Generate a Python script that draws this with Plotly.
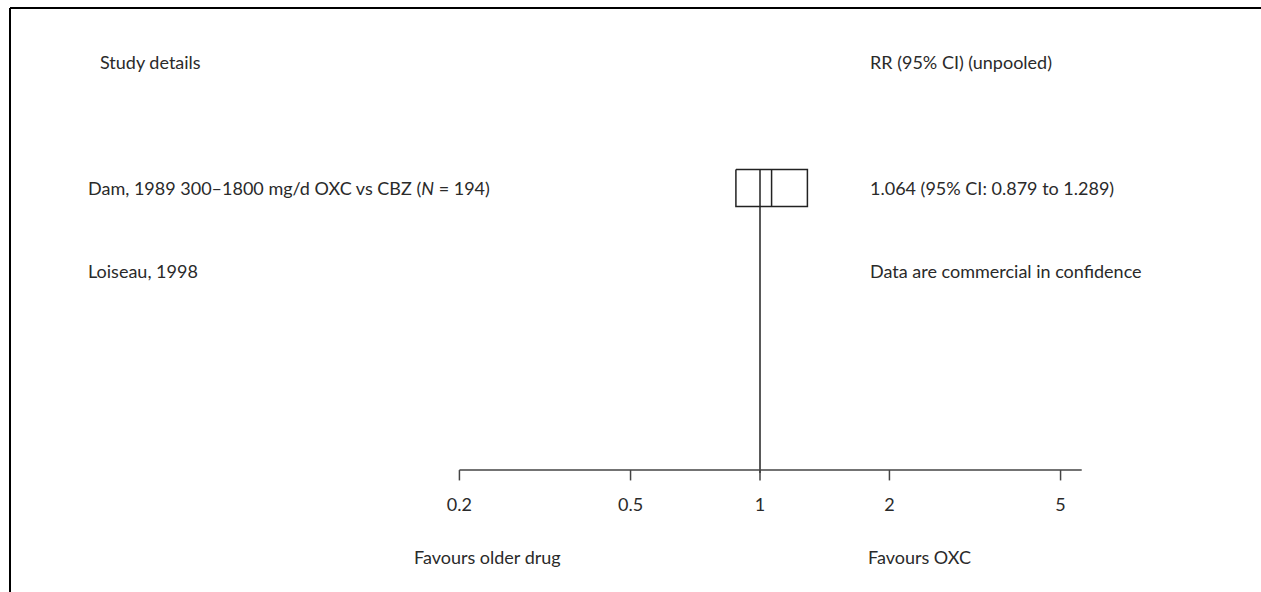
import plotly.graph_objects as go

# ---- data ----
studies = ["Dam, 1989 300–1800 mg/d OXC vs CBZ (<i>N</i> = 194)", "Loiseau, 1998"]
rr = [1.064, None]
ci_low = [0.879, None]
ci_high = [1.289, None]
result_text = ["1.064 (95% CI: 0.879 to 1.289)", "Data are commercial in confidence"]
tick_vals = [0.2, 0.5, 1, 2, 5]
tick_text = ["0.2", "0.5", "1", "2", "5"]
axis_min, axis_max = 0.2, 5.6
null_value = 1
header_left = "Study details"
header_right = "RR (95% CI) (unpooled)"
favours_left = "Favours older drug"
favours_right = "Favours OXC"

W, H = 1261, 592
FONT = "Lato"
FS = 18
TXT = "#2a2a2a"

# layout constants (row units)
axis_y = 3.398
header_y = -1.52
favours_y = 4.446
box_half = 0.223

fig = go.Figure()

# null line
fig.add_trace(go.Scatter(x=[null_value, null_value], y=[-box_half, axis_y + 0.036],
                         mode="lines", line=dict(color="#222", width=1.5),
                         hoverinfo="skip", showlegend=False))
# axis line
fig.add_trace(go.Scatter(x=[axis_min, axis_max], y=[axis_y, axis_y],
                         mode="lines", line=dict(color="#444", width=1.5),
                         hoverinfo="skip", showlegend=False))
# ticks
for tv in tick_vals:
    fig.add_trace(go.Scatter(x=[tv, tv], y=[axis_y, axis_y + 0.125],
                             mode="lines", line=dict(color="#444", width=1.5),
                             hoverinfo="skip", showlegend=False))

for i, (m, lo, hi) in enumerate(zip(rr, ci_low, ci_high)):
    if m is None:
        continue
    fig.add_trace(go.Scatter(x=[lo, hi, hi, lo, lo],
                             y=[i - box_half, i - box_half, i + box_half, i + box_half, i - box_half],
                             mode="lines", line=dict(color="#222", width=1.5),
                             hoverinfo="skip", showlegend=False))
    fig.add_trace(go.Scatter(x=[m, m], y=[i - box_half, i + box_half],
                             mode="lines", line=dict(color="#222", width=1.5),
                             hoverinfo="skip", showlegend=False))

ann = []
def txt(x_px, y, s, anchor="left"):
    ann.append(dict(xref="paper", yref="y", x=x_px / W, y=y, text=s, showarrow=False,
                    xanchor=anchor, yanchor="middle", font=dict(family=FONT, size=FS, color=TXT)))

txt(98, header_y, header_left)
txt(868, header_y, header_right)
for i, (s, r) in enumerate(zip(studies, result_text)):
    txt(86, i, s)
    txt(868, i, r)
txt(487, favours_y, favours_left, "center")
txt(866, favours_y, favours_right)

shapes = [
    dict(type="line", xref="paper", yref="paper", x0=10 / W, x1=1, y0=1 - 8 / H, y1=1 - 8 / H,
         line=dict(color="black", width=2)),
    dict(type="line", xref="paper", yref="paper", x0=10 / W, x1=10 / W, y0=0, y1=1 - 8 / H,
         line=dict(color="black", width=2)),
]

fig.update_layout(
    width=W, height=H,
    margin=dict(l=0, r=0, t=0, b=0),
    paper_bgcolor="white", plot_bgcolor="white",
    xaxis=dict(type="log", range=[-1.7674, 1.1651], domain=[0, 1],
               showgrid=False, zeroline=False, showline=False,
               tickmode="array", tickvals=tick_vals, ticktext=tick_text,
               ticks="", anchor="free", position=1 - 470 / H,
               ticklabelstandoff=22,
               tickfont=dict(family=FONT, size=FS, color=TXT)),
    yaxis=dict(range=[4.867, -2.265], visible=False, domain=[0, 1]),
    annotations=ann, shapes=shapes,
)

fig.write_html("out.html", config={"displayModeBar": False, "staticPlot": True},
               post_script="document.body.style.margin='0';document.body.style.padding='0';")
